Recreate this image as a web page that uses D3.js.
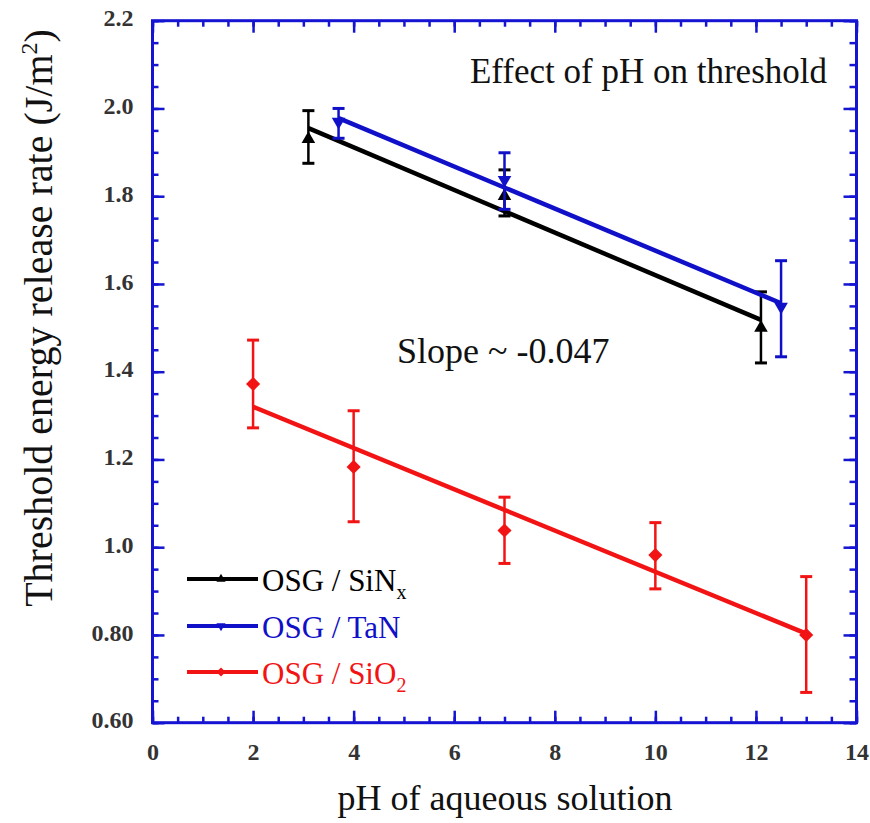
<!DOCTYPE html>
<html>
<head>
<meta charset="utf-8">
<script src="https://cdn.jsdelivr.net/npm/d3@7"></script>
<style>
  body { margin: 0; background: #fff; }
  svg { display: block; font-family: "Liberation Serif", "Times New Roman", serif; }
</style>
</head>
<body>
<svg id="chart" width="870" height="823"></svg>
<script>
// values
const phSiNx = [3.1, 7.0, 12.1];
const gSiNx = [1.93, 1.80, 1.50];
const loSiNx = [1.875, 1.755, 1.42];
const hiSiNx = [1.995, 1.86, 1.582];
const fitSiNxPh = [3.1, 12.1];
const fitSiNxG = [1.955, 1.518];

const phTaN = [3.7, 7.0, 12.5];
const gTaN = [1.97, 1.837, 1.548];
const loTaN = [1.932, 1.77, 1.434];
const hiTaN = [2.0, 1.899, 1.653];
const fitTaNPh = [3.7, 12.5];
const fitTaNG = [1.978, 1.556];

const phSiO2 = [2, 4, 7, 10, 13];
const gSiO2 = [1.372, 1.183, 1.038, 0.982, 0.80];
const loSiO2 = [1.272, 1.058, 0.963, 0.905, 0.669];
const hiSiO2 = [1.472, 1.311, 1.114, 1.056, 0.933];
const fitSiO2Ph = [2, 13];
const fitSiO2G = [1.32, 0.803];

const xTicks = [0, 2, 4, 6, 8, 10, 12, 14];
const yTicks = [0.6, 0.8, 1.0, 1.2, 1.4, 1.6, 1.8, 2.0, 2.2];
const yTickLabels = ["0.60", "0.80", "1.0", "1.2", "1.4", "1.6", "1.8", "2.0", "2.2"];

const frameBlue = '#1414d2';
const series = [
  { name: 'OSG / SiN', sub: 'x', color: '#000000', sym: 'up', ph: phSiNx, g: gSiNx, lo: loSiNx, hi: hiSiNx, fx: fitSiNxPh, fy: fitSiNxG },
  { name: 'OSG / TaN', sub: '', color: '#1010c8', sym: 'down', ph: phTaN, g: gTaN, lo: loTaN, hi: hiTaN, fx: fitTaNPh, fy: fitTaNG },
  { name: 'OSG / SiO', sub: '2', color: '#f21414', sym: 'diamond', ph: phSiO2, g: gSiO2, lo: loSiO2, hi: hiSiO2, fx: fitSiO2Ph, fy: fitSiO2G }
];

const pLeft = 152.5, pRight = 856.5, pTop = 20.7, pBottom = 722.7;
const x = d3.scaleLinear().domain([0, 14]).range([pLeft, pRight]);
const y = d3.scaleLinear().domain([0.6, 2.2]).range([pBottom, pTop]);

const svg = d3.select('#chart');
const serif = '"Liberation Serif", "Times New Roman", serif';

// ticks (all pointing inward)
const minorX = d3.range(0, 14.01, 0.5);
const minorY = d3.range(0.6, 2.201, 0.05);

const addAxis = (axis, tr, vals, size, labels) => {
  const g = svg.append('g').attr('transform', tr)
    .call(axis.tickValues(vals).tickSizeInner(-size).tickSizeOuter(0));
  g.attr('font-family', serif);
  g.select('.domain').remove();
  g.selectAll('line').attr('stroke', frameBlue).attr('stroke-width', 2.5);
  if (!labels) g.selectAll('text').remove();
  return g;
};

addAxis(d3.axisBottom(x), `translate(0,${pBottom})`, minorX, 6, false);
addAxis(d3.axisTop(x), `translate(0,${pTop})`, minorX, 6, false);
addAxis(d3.axisLeft(y), `translate(${pLeft},0)`, minorY, 6, false);
addAxis(d3.axisRight(y), `translate(${pRight},0)`, minorY, 7, false);
addAxis(d3.axisTop(x), `translate(0,${pTop})`, xTicks, 12, false);
addAxis(d3.axisRight(y), `translate(${pRight},0)`, yTicks, 13, false);

const xb = addAxis(d3.axisBottom(x).tickPadding(20).tickFormat(d3.format('d')), `translate(0,${pBottom})`, xTicks, 12, true);
const yl = addAxis(d3.axisLeft(y).tickPadding(19).tickFormat((d, i) => yTickLabels[i]), `translate(${pLeft},0)`, yTicks, 12, true);
svg.selectAll('.tick text')
  .attr('font-family', serif)
  .attr('font-size', 24)
  .attr('font-weight', 'bold')
  .attr('fill', '#333');
yl.selectAll('text').attr('dy', '0.22em');

// frame
svg.append('rect')
  .attr('x', pLeft).attr('y', pTop)
  .attr('width', pRight - pLeft).attr('height', pBottom - pTop)
  .attr('fill', 'none').attr('stroke', frameBlue).attr('stroke-width', 3);

const symbolPath = (type, big) => {
  if (type === 'diamond') return d3.symbol(d3.symbolSquare, big ? 100 : 40)();
  return d3.symbol(d3.symbolTriangle, big ? 80 : 36)();
};
const symbolRot = type => type === 'down' ? 180 : type === 'diamond' ? 45 : 0;

const plot = svg.append('g');
series.forEach(s => {
  const g = plot.append('g');
  // fit line
  g.append('line')
    .attr('x1', x(s.fx[0])).attr('y1', y(s.fy[0]))
    .attr('x2', x(s.fx[1])).attr('y2', y(s.fy[1]))
    .attr('stroke', s.color).attr('stroke-width', 4.5);
  // error bars
  const eb = g.selectAll('g.err').data(s.ph).join('g').attr('class', 'err');
  eb.append('line')
    .attr('x1', d => x(d)).attr('x2', d => x(d))
    .attr('y1', (d, i) => y(s.lo[i])).attr('y2', (d, i) => y(s.hi[i]))
    .attr('stroke', s.color).attr('stroke-width', 2.5);
  [s.lo, s.hi].forEach(arr => {
    eb.append('line')
      .attr('x1', d => x(d) - 6).attr('x2', d => x(d) + 6)
      .attr('y1', (d, i) => y(arr[i])).attr('y2', (d, i) => y(arr[i]))
      .attr('stroke', s.color).attr('stroke-width', 3);
  });
  // markers
  g.selectAll('path.pt').data(s.ph).join('path')
    .attr('class', 'pt')
    .attr('d', symbolPath(s.sym, true))
    .attr('transform', (d, i) => `translate(${x(d)},${y(s.g[i])}) rotate(${symbolRot(s.sym)})`)
    .attr('fill', s.color);
});

// legend
const legY = [579, 626, 672];
const leg = svg.append('g');
series.forEach((s, i) => {
  const row = leg.append('g').attr('transform', `translate(0,${legY[i]})`);
  row.append('line').attr('x1', 187).attr('x2', 258).attr('stroke', s.color).attr('stroke-width', 4);
  row.append('path').attr('d', symbolPath(s.sym, false))
    .attr('transform', `translate(221,0) rotate(${symbolRot(s.sym)})`).attr('fill', s.color);
  const t = row.append('text').attr('x', 262).attr('y', 12)
    .attr('font-family', serif)
    .attr('font-size', 31).attr('fill', s.color).text(s.name);
  if (s.sub) t.append('tspan').attr('font-size', 20).attr('dy', 8).text(s.sub);
});

// annotations
svg.append('text').attr('x', 827).attr('y', 83).attr('text-anchor', 'end')
  .attr('font-family', serif)
  .attr('font-size', 35).attr('fill', '#111').text('Effect of pH on threshold');
svg.append('text').attr('x', 397).attr('y', 363)
  .attr('font-family', serif)
  .attr('font-size', 36).attr('fill', '#111').text('Slope ~ -0.047');

// axis titles
svg.append('text').attr('x', 505).attr('y', 810).attr('text-anchor', 'middle')
  .attr('font-family', serif)
  .attr('font-size', 36).attr('fill', '#111').text('pH of aqueous solution');
const yt = svg.append('text')
  .attr('transform', 'translate(52,318) rotate(-90)')
  .attr('text-anchor', 'middle')
  .attr('font-family', serif)
  .attr('font-size', 40).attr('fill', '#111');
yt.append('tspan').text('Threshold energy release rate (J/m');
yt.append('tspan').attr('font-size', 24).attr('dy', -15).text('2');
yt.append('tspan').attr('dy', 15).text(')');
</script>
</body>
</html>
